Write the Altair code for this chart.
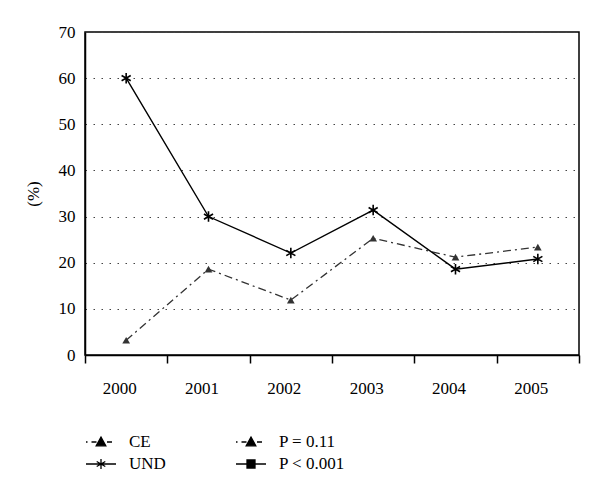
import altair as alt
import pandas as pd

years = ["2000", "2001", "2002", "2003", "2004", "2005"]
ce_values = [3.2, 18.6, 11.9, 25.3, 21.2, 23.4]
und_values = [60.0, 30.0, 22.1, 31.4, 18.6, 20.8]
legend_entries = ["CE", "UND", "P = 0.11", "P < 0.001"]

df = pd.DataFrame({
    "year": years * 2,
    "value": ce_values + und_values,
    "series": ["CE"] * len(years) + ["UND"] * len(years),
})
legend_df = pd.DataFrame({"entry": legend_entries})

FONT = "Liberation Serif"

ASTERISK = "M0,-1L0,1M-0.87,-0.5L0.87,0.5M-0.87,0.5L0.87,-0.5"
LEG_DASHDOT_TRI = ("M-1.5,0L-1.35,0M-0.95,0L-0.45,0"
                   "M-0.48,0.38L0,-0.5L0.48,0.38Z"
                   "M0.6,0L1.1,0")
LEG_SOLID_STAR = ("M-1.5,0L1.5,0"
                  "M0,-0.5L0,0.5M-0.43,-0.25L0.43,0.25M-0.43,0.25L0.43,-0.25")
LEG_SOLID_SQUARE = ("M-1.5,0L1.5,0"
                    "M-0.4,-0.4L0.4,-0.4L0.4,0.4L-0.4,0.4Z")

x_enc = alt.X(
    "year:N",
    sort=years,
    scale=alt.Scale(paddingInner=0, paddingOuter=0),
    axis=alt.Axis(
        title=None, labelAngle=0, tickBand="extent", tickSize=8,
        tickColor="black", tickWidth=1.5, domainColor="black",
        domainWidth=1.5, labelPadding=17, labelOffset=-7, grid=False,
        labelFont=FONT, labelFontSize=17, labelColor="black",
    ),
)
y_enc = alt.Y(
    "value:Q",
    scale=alt.Scale(domain=[0, 70]),
    axis=alt.Axis(
        title="(%)", values=list(range(0, 71, 10)), ticks=False,
        labelPadding=10, domainColor="black", domainWidth=1.5,
        grid=True, gridColor="#444", gridDash=[1.5, 6.5], gridWidth=1,
        labelFont=FONT, labelFontSize=17, labelColor="black",
        titleFont=FONT, titleFontSize=17, titleFontWeight="normal",
        titleColor="black", titlePadding=16,
    ),
)

base = alt.Chart(df).encode(x=x_enc, y=y_enc)

ce_line = base.transform_filter(alt.datum.series == "CE").mark_line(
    color="#333", strokeWidth=1.3, strokeDash=[8, 4, 2, 4]
)
und_line = base.transform_filter(alt.datum.series == "UND").mark_line(
    color="black", strokeWidth=1.4
)
ce_pts = base.transform_filter(alt.datum.series == "CE").mark_point(
    shape="triangle-up", size=60, filled=True, color="#333", opacity=1
)
und_pts = base.transform_filter(alt.datum.series == "UND").mark_point(
    shape=ASTERISK, size=110, filled=False, color="black",
    strokeWidth=1.6, opacity=1
)

legend_layer = alt.Chart(legend_df).mark_point(
    opacity=0, size=400, filled=False, fill="black", stroke="black",
    strokeWidth=1.3
).encode(
    shape=alt.Shape(
        "entry:N",
        scale=alt.Scale(
            domain=legend_entries,
            range=[LEG_DASHDOT_TRI, LEG_SOLID_STAR, LEG_DASHDOT_TRI, LEG_SOLID_SQUARE],
        ),
        legend=alt.Legend(
            title=None, orient="none", legendX=5, legendY=399,
            columns=2, columnPadding=67, rowPadding=3, padding=0,
            symbolSize=400, symbolOpacity=1, symbolStrokeWidth=1.3,
            labelOffset=17, labelFont=FONT, labelFontSize=17,
            labelColor="black", labelLimit=200,
        ),
    )
)

chart = alt.layer(ce_line, und_line, ce_pts, und_pts, legend_layer).properties(
    width=494, height=323,
    background="white",
    autosize=alt.AutoSizeParams(type="none"),
    padding={"left": 77, "top": 24, "right": 13, "bottom": 138},
).configure_view(
    stroke="black", strokeWidth=1.5
).configure_legend(
    symbolBaseStrokeColor="black", symbolBaseFillColor="black"
)

chart.save("out.html", embed_options={"renderer": "svg", "actions": False})
